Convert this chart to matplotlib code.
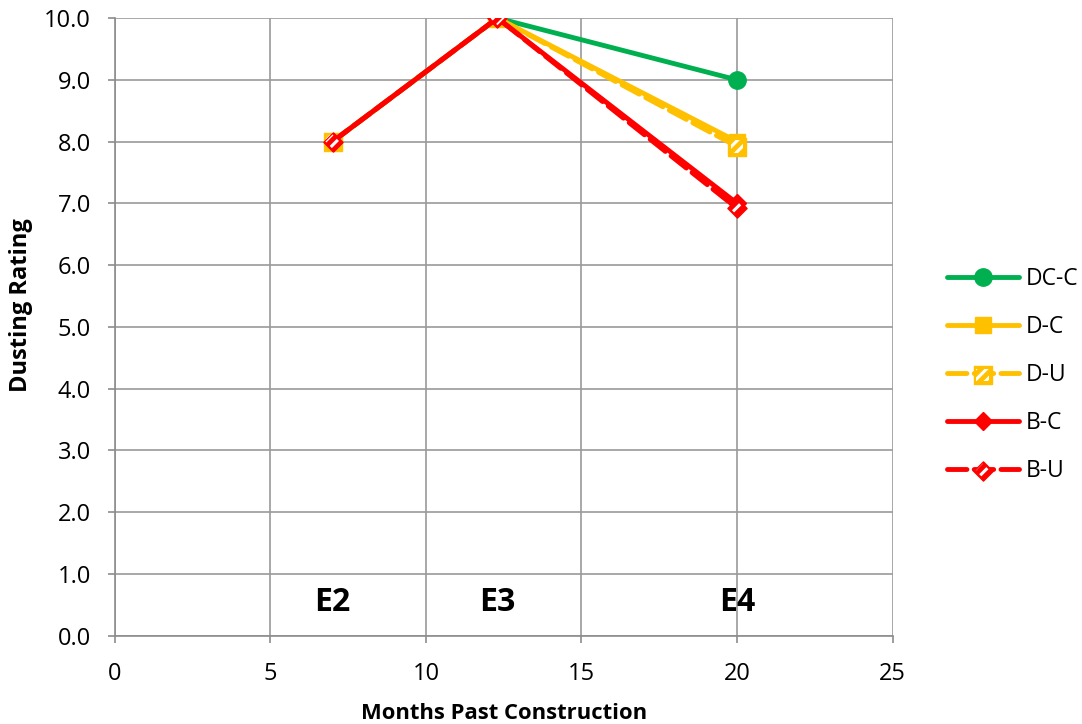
import numpy as np
import matplotlib
matplotlib.use("Agg")
import matplotlib.pyplot as plt
from matplotlib.ticker import FormatStrFormatter
from matplotlib.legend_handler import HandlerTuple

plt.rcParams['font.family'] = ['Open Sans', 'DejaVu Sans']
plt.rcParams['hatch.linewidth'] = 2.2

# data
months = [7.0, 12.3, 20.0]
stages = ['E2', 'E3', 'E4']
series = ['DC-C', 'D-C', 'D-U', 'B-C', 'B-U']
dc_c = [8.0, 10.0, 9.0]
d_c = [8.0, 10.0, 8.0]
d_u = [8.0, 10.0, 7.92]
b_c = [8.0, 10.0, 7.0]
b_u = [8.0, 10.0, 6.92]

green = '#00b050'
orange = '#ffc000'
red = '#ff0000'

fig, ax = plt.subplots(figsize=(10.82, 7.24), dpi=100)
fig.subplots_adjust(left=0.106, right=0.825, top=0.975, bottom=0.122)


def hatched(x, y, marker, size, color, z):
    # solid coloured marker with white stripes laid over it
    base = ax.scatter(x, y, marker=marker, s=size, facecolor=color, edgecolor=color,
                      linewidth=1.0, zorder=z)
    top = ax.scatter(x, y, marker=marker, s=size * 0.55, facecolor='none', edgecolor='white',
                     hatch='///', linewidth=0, zorder=z + 0.1)
    return base, top


handles = []
l, = ax.plot(months, dc_c, color=green, lw=3.5, marker='o', ms=12.5, solid_capstyle='round', zorder=3)
handles.append(l)
l, = ax.plot(months, d_c, color=orange, lw=3.5, marker='s', ms=12, solid_capstyle='round', zorder=3)
handles.append(l)

l, = ax.plot(months, d_u, color=orange, lw=3.5, ls=(0, (4, 1.5)), dash_capstyle='round', zorder=3)
b, t = hatched(months, d_u, 's', 150, orange, 4)
handles.append((l, b, t))

l, = ax.plot(months, b_c, color=red, lw=3.5, marker='D', ms=9, solid_capstyle='round', zorder=5)
handles.append(l)

l, = ax.plot(months, b_u, color=red, lw=3.5, ls=(0, (4, 1.5)), dash_capstyle='round', zorder=5)
b, t = hatched(months, b_u, 'D', 95, red, 6)
handles.append((l, b, t))

for x, name in zip(months, stages):
    ax.text(x, 0.53, name, ha='center', va='center', fontsize=23, fontweight='bold')

ax.set_xlim(0, 25)
ax.set_ylim(0, 10)
ax.set_xticks(np.arange(0, 26, 5))
ax.set_yticks(np.arange(0, 10.1, 1))
ax.yaxis.set_major_formatter(FormatStrFormatter('%.1f'))
ax.grid(True, color='#9a9a9a', lw=1.2)
ax.set_axisbelow(True)
for sp in ['top', 'right']:
    ax.spines[sp].set_visible(False)
for sp in ['left', 'bottom']:
    ax.spines[sp].set_color('#8c8c8c')
    ax.spines[sp].set_linewidth(1.2)
ax.tick_params(axis='both', colors='#8c8c8c', labelcolor='black', labelsize=17,
               length=5, width=1.2, direction='out')
ax.tick_params(axis='x', pad=14)
ax.tick_params(axis='y', pad=12)

ax.set_xlabel('Months Past Construction', fontsize=15.8, fontweight='bold', labelpad=12)
ax.set_ylabel('Dusting Rating', fontsize=17, fontweight='bold')
ax.yaxis.set_label_coords(-0.105, 0.536)

fig.legend(handles, series, loc='center left', bbox_to_anchor=(0.856, 0.482),
           frameon=False, fontsize=16.5, handlelength=3.14, labelspacing=1.04,
           handletextpad=0.3,
           handler_map={tuple: HandlerTuple(ndivide=1)})

fig.savefig('out.png', dpi=100)
